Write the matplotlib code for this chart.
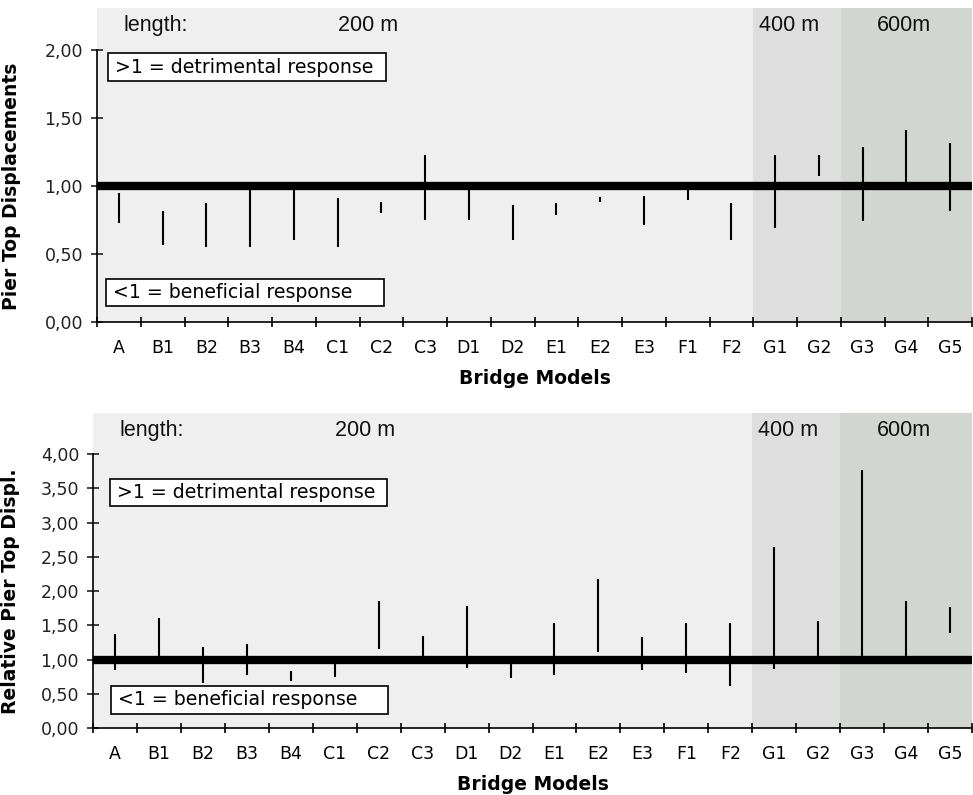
import numpy as np
import matplotlib
matplotlib.use("Agg")
import matplotlib.pyplot as plt
from matplotlib.patches import Rectangle
import matplotlib.transforms as mtransforms

models = ["A", "B1", "B2", "B3", "B4", "C1", "C2", "C3", "D1", "D2",
          "E1", "E2", "E3", "F1", "F2", "G1", "G2", "G3", "G4", "G5"]

# pier top displacements (min / max per model)
disp_lo = [0.73, 0.57, 0.55, 0.55, 0.60, 0.55, 0.80, 0.75, 0.75, 0.60,
           0.79, 0.88, 0.71, 0.90, 0.60, 0.69, 1.075, 0.74, 1.00, 0.82]
disp_hi = [0.95, 0.82, 0.875, 0.98, 0.98, 0.91, 0.88, 1.23, 0.98, 0.86,
           0.875, 0.92, 0.93, 1.03, 0.875, 1.23, 1.23, 1.29, 1.41, 1.32]

# relative pier top displacements
rel_lo = [0.84, 1.00, 0.66, 0.78, 0.69, 0.75, 1.16, 1.00, 0.87, 0.73,
          0.78, 1.11, 0.84, 0.81, 0.61, 0.86, 1.00, 1.00, 1.00, 1.39]
rel_hi = [1.38, 1.61, 1.18, 1.23, 0.83, 0.97, 1.85, 1.35, 1.78, 0.97,
          1.53, 2.18, 1.33, 1.53, 1.53, 2.65, 1.56, 3.77, 1.85, 1.76]

# span length groups: (first model index, last+1, label, colour)
groups = [(0, 15, "200 m", "#efefef"), (15, 17, "400 m", "#dedede"), (17, 20, "600m", "#d1d6d1")]

W, H = 973, 795
fig = plt.figure(figsize=(W / 100, H / 100), dpi=100)

tick_font = dict(family="DejaVu Sans", size=12.5)
lab_font = dict(family="DejaVu Sans", size=13.5, weight="bold")
reg_font = dict(family="Liberation Sans", size=15.5, color="#111111")


def box(ax, x, y, w, h, text):
    ax.add_patch(Rectangle((x, y), w, h, transform=ax.transAxes, facecolor="white",
                           edgecolor="black", lw=1.2, zorder=5, clip_on=False))
    ax.text(x + 0.008, y + h / 2, text, transform=ax.transAxes, va="center", ha="left",
            family="DejaVu Sans", size=13.6, zorder=6)


def panel(rect, lo, hi, ymax_tick, ytop, yticks, ylabel, ylab_x, boxes):
    ax = fig.add_axes(rect)
    ax.set_facecolor("none")
    x = np.arange(len(models)) + 0.5
    for g0, g1, lab, col in groups:
        ax.axvspan(g0, g1, color=col, lw=0, zorder=0)
    ax.vlines(x, lo, hi, color="black", lw=1.5, zorder=3)
    ax.axhline(1.0, xmin=0.004, xmax=1, color="black", lw=6, zorder=4)
    ax.set_xlim(0, len(models))
    ax.set_ylim(0, ytop)

    ax.set_xticks(np.arange(len(models) + 1))
    ax.set_xticklabels([])
    ax.set_xticks(x, minor=True)
    ax.set_xticklabels(models, minor=True, **tick_font)
    ax.tick_params(axis="x", which="major", direction="inout", length=7, width=1.2)
    ax.tick_params(axis="x", which="minor", length=0, pad=12)

    ax.set_yticks(yticks)
    ax.set_yticklabels([f"{v:.2f}".replace(".", ",") for v in yticks], **tick_font)
    ax.tick_params(axis="y", direction="inout", length=8, width=1.2, pad=6, colors="#222222")

    for s in ["top", "right"]:
        ax.spines[s].set_visible(False)
    ax.spines["left"].set_bounds(0, ymax_tick)
    ax.spines["left"].set_linewidth(1.2)
    ax.spines["bottom"].set_linewidth(1.2)

    ax.set_xlabel("Bridge Models", labelpad=9, **lab_font)
    ax.set_ylabel(ylabel, **lab_font)
    ax.yaxis.set_label_coords(ylab_x, ymax_tick / 2 / ytop)

    trans = mtransforms.blended_transform_factory(ax.transData, ax.transAxes)
    ax.text(0.6, 0.945, "length:", transform=trans, ha="left", va="center", **reg_font)
    ax.text(6.2, 0.945, groups[0][2], transform=trans, ha="center", va="center", **reg_font)
    ax.text(15.13, 0.945, groups[1][2], transform=trans, ha="left", va="center", **reg_font)
    ax.text(18.45, 0.945, groups[2][2], transform=trans, ha="center", va="center", **reg_font)

    for bx, by, bw, bh, t in boxes:
        box(ax, bx, by, bw, bh, t)
    return ax


panel([97 / W, (H - 322) / H, 875 / W, 314 / H], disp_lo, disp_hi, 2.0, 2.31,
      [0, 0.5, 1.0, 1.5, 2.0], "Pier Top Displacements", -0.087,
      [(0.0126, 0.7675, 0.318, 0.089, ">1 = detrimental response"),
       (0.0103, 0.051, 0.318, 0.086, "<1 = beneficial response")])

panel([93 / W, (H - 728) / H, 879 / W, 315 / H], rel_lo, rel_hi, 4.0, 4.6,
      [0, 0.5, 1.0, 1.5, 2.0, 2.5, 3.0, 3.5, 4.0], "Relative Pier Top Displ.", -0.0836,
      [(0.0193, 0.705, 0.315, 0.0857, ">1 = detrimental response"),
       (0.0205, 0.0444, 0.315, 0.089, "<1 = beneficial response")])

fig.savefig("out.png", dpi=100)
